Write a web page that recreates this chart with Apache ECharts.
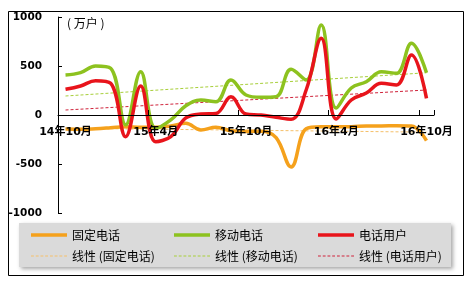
<!DOCTYPE html>
<html>
<head>
<meta charset="utf-8">
<script src="https://cdn.jsdelivr.net/npm/echarts@6/dist/echarts.min.js"></script>
<style>html,body{margin:0;padding:0;background:#fff;}#c{width:467px;height:283px;}</style>
</head>
<body>
<div id="c"></div>
<script>
var categories = ['14年10月','14年11月','14年12月','15年1月','15年2月','15年3月','15年4月','15年5月','15年6月','15年7月','15年8月','15年9月','15年10月','15年11月','15年12月','16年1月','16年2月','16年3月','16年4月','16年5月','16年6月','16年7月','16年8月','16年9月','16年10月'];
var fixedPhone = [-143,-146,-140,-130,-119,-126,-126,-112,-85,-153,-126,-160,-168,-165,-230,-530,-140,-119,-119,-119,-112,-112,-109,-112,-262];
var mobilePhone = [408,432,500,476,-100,442,-136,-50,95,153,135,357,204,180,187,466,357,918,71,275,340,442,425,731,431];
var phoneUsers = [262,296,350,323,-221,296,-272,-220,-30,10,15,185,10,0,-24,-44,255,782,-40,153,224,323,306,612,170];
// trend line endpoints (first and last category)
var trendFixed = [-135, -175];
var trendMobile = [194, 431];
var trendUsers = [51, 255];
var yTicks = [-1000, -500, 0, 500, 1000];

function endpoints(pair){
  var arr = categories.map(function(){return null;});
  arr[0] = pair[0]; arr[arr.length-1] = pair[1];
  return arr;
}

var chart = echarts.init(document.getElementById('c'));
var numFont = 'DejaVu Sans, Noto Sans CJK SC, sans-serif';
var cjkFont = 'Noto Sans CJK SC, sans-serif';
var cOrange = '#F5A11C', cGreen = '#8DC21F', cRed = '#E8141B';

var dashPath = 'path://';
for (var k = 0; k < 8; k++) { dashPath += 'M' + (k*5) + ',0h3v1h-3z'; }

function mainLine(name, data, color){
  return {name:name, type:'line', data:data, smooth:0.4, symbol:'none', showSymbol:false,
    lineStyle:{color:color, width:3.5}, itemStyle:{color:color}, z:3};
}
function trendLine(name, data, color){
  return {name:name, type:'line', data:endpoints(data), connectNulls:true, symbol:'none', showSymbol:false,
    lineStyle:{color:color, width:1, type:[3,2]}, itemStyle:{color:color}, z:2};
}
function legendItem(left, name, isTrend){
  var h = isTrend ? 1 : 3.5;
  return {left:left, top:(isTrend ? 256 : 235) - 7, padding:0, itemWidth:36, itemHeight:h,
    data:[name], selectedMode:false, icon: isTrend ? dashPath : 'rect', symbolKeepAspect:false,
    textStyle:{fontFamily:cjkFont, fontSize:12, color:'#000', lineHeight:14}};
}

chart.setOption({
  animation:false,
  backgroundColor:'#fff',
  grid:{left:58, right:33, top:17, bottom:70, containLabel:false},
  xAxis:{type:'category', data:categories, boundaryGap:true, offset:-98, z:10,
    axisLine:{onZero:false, lineStyle:{color:'#000', width:1}},
    axisTick:{show:true, inside:true, length:5, interval:5, lineStyle:{color:'#000'}},
    axisLabel:{interval:5, margin:12, fontFamily:numFont, fontWeight:'bold', fontSize:11, color:'#000'},
    splitLine:{show:false}},
  yAxis:{type:'value', min:yTicks[0], max:yTicks[yTicks.length-1], interval:500,
    axisLine:{show:true, lineStyle:{color:'#000', width:1}},
    axisTick:{show:true, inside:true, length:4, lineStyle:{color:'#000'}},
    axisLabel:{margin:16, fontFamily:numFont, fontWeight:'bold', fontSize:10.5, color:'#000',
      formatter:function(v){return String(v);}},
    splitLine:{show:false}},
  legend:[
    legendItem(31, '固定电话', false),
    legendItem(31, '线性 (固定电话)', true),
    legendItem(174, '移动电话', false),
    legendItem(174, '线性 (移动电话)', true),
    legendItem(318, '电话用户', false),
    legendItem(318, '线性 (电话用户)', true)
  ],
  graphic:[
    {type:'rect', left:6, top:9, z:-10, shape:{width:455, height:264}, style:{fill:'none', stroke:'#000', lineWidth:1}},
    {type:'rect', left:19, top:223, z:-5, shape:{width:432, height:44},
      style:{fill:'#dadada', shadowBlur:4, shadowOffsetX:2, shadowOffsetY:2, shadowColor:'rgba(0,0,0,0.35)'}},
    {type:'text', left:67, top:17, style:{text:'( 万户 )', fontFamily:cjkFont, fontSize:12, fill:'#000'}}
  ],
  series:[
    trendLine('线性 (固定电话)', trendFixed, '#F5C06A'),
    trendLine('线性 (移动电话)', trendMobile, '#A8CF3A'),
    trendLine('线性 (电话用户)', trendUsers, '#D0243C'),
    mainLine('固定电话', fixedPhone, cOrange),
    mainLine('移动电话', mobilePhone, cGreen),
    mainLine('电话用户', phoneUsers, cRed)
  ]
});
</script>
</body>
</html>
